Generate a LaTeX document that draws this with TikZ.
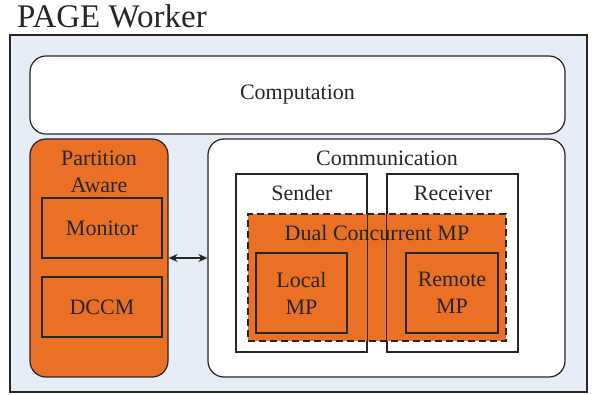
\documentclass[tikz,border=0pt]{standalone}
\usepackage{fontspec}
\setmainfont{Liberation Serif}
\usepackage{tikz}
\usetikzlibrary{arrows, arrows.meta, positioning}
\definecolor{pageorange}{HTML}{E97024}
\definecolor{pageblue}{HTML}{E6EDF6}
\definecolor{pageline}{HTML}{262626}
\tikzset{
	box/.style={draw=pageline, line width=1.2pt, inner sep=0pt},
	roundbox/.style={box, rounded corners=16pt, fill=white},
	mpbox/.style={box, fill=pageorange},
	txt/.style={inner sep=0pt, align=center, font=\rmfamily\fontsize{22}{27}\selectfont, text=pageline}
}
\begin{document}
\begin{tikzpicture}[x=1pt, y=-1pt]
	\useasboundingbox (0,0) rectangle (598,395);
	\node[anchor=base west, inner sep=0pt, font=\rmfamily\fontsize{33}{36}\selectfont, text=pageline] (title) at (17,28) {PAGE Worker};
	\node[draw=pageline, line width=2.6pt, fill=pageblue, minimum width=577pt, minimum height=357pt] (worker) at (298.5,213.5) {};

	\node[roundbox, minimum width=535pt, minimum height=78pt] (comp) at (297.5,95) {};
	\node[txt] (comptxt) at (comp) {Computation};

	\node[roundbox, fill=pageorange, minimum width=138pt, minimum height=238pt] (part) at (99,258) {};
	\node[txt] (parttxt) at (99,171.5) {Partition\\Aware};
	\node[mpbox, minimum width=120pt, minimum height=60pt] (monitor) at (102,228) {};
	\node[txt] (monitortxt) at (monitor) {Monitor};
	\node[mpbox, minimum width=120pt, minimum height=60pt] (dccm) at (102,307) {};
	\node[txt] (dccmtxt) at (dccm) {DCCM};

	\node[roundbox, minimum width=357pt, minimum height=238pt] (comm) at (386.5,258) {};
	\node[txt] (commtxt) at (387,158) {Communication};
	\node[box, fill=white, minimum width=131pt, minimum height=178pt] (sender) at (301.5,263) {};
	\node[txt] (sendertxt) at (302,193) {Sender};
	\node[box, fill=white, minimum width=131pt, minimum height=178pt] (receiver) at (452.5,263) {};
	\node[txt] (receivertxt) at (453,193) {Receiver};

	\node[mpbox, dashed, dash pattern=on 7pt off 4pt, minimum width=258pt, minimum height=127pt] (dual) at (377,277.5) {};
	\draw[draw=pageline, line width=1.2pt] (sender.north west) rectangle (sender.south east);
	\draw[draw=pageline, line width=1.2pt] (receiver.north west) rectangle (receiver.south east);
	\node[txt] (dualtxt) at (377,233) {Dual Concurrent MP};
	\node[mpbox, minimum width=91pt, minimum height=80pt] (local) at (301.5,293) {};
	\node[txt] (localtxt) at (local) {Local\\MP};
	\node[mpbox, minimum width=92pt, minimum height=80pt] (remote) at (452,293) {};
	\node[txt] (remotetxt) at (remote) {Remote\\MP};

	\draw[{Stealth[length=9pt, width=8pt]}-{Stealth[length=9pt, width=8pt]}, draw=pageline, line width=1.2pt] (part) -- (comm);
\end{tikzpicture}
\end{document}
